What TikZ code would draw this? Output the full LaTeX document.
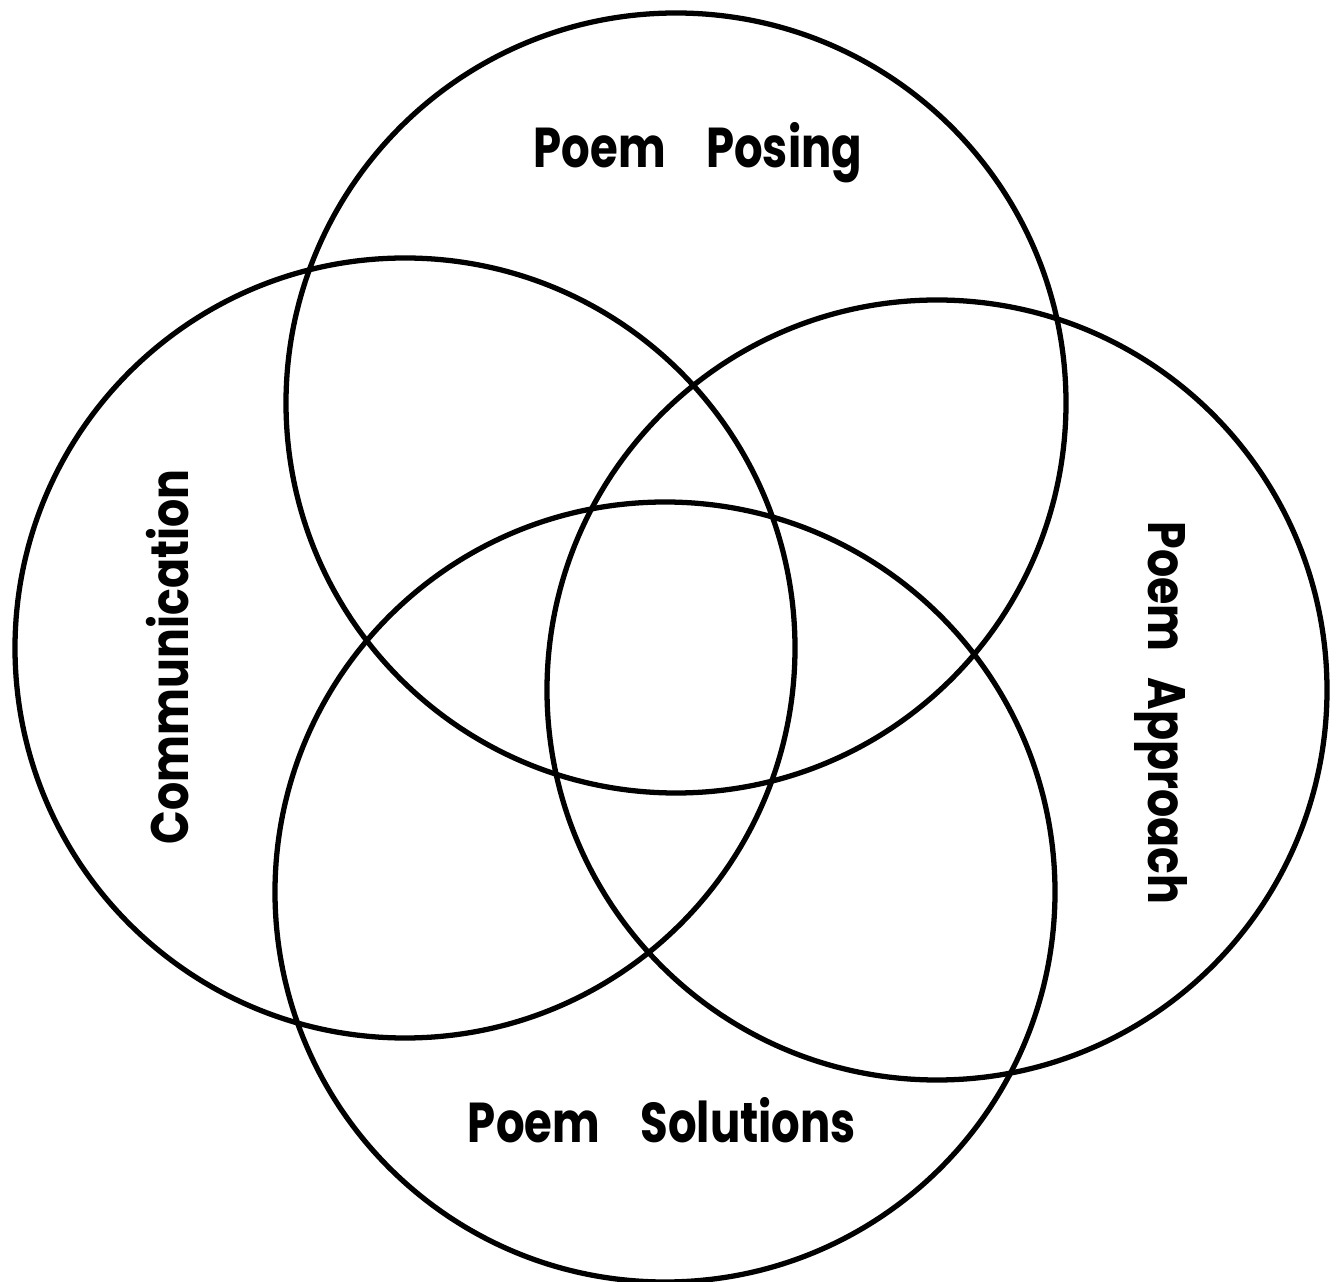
\documentclass[tikz,border=0pt]{standalone}
\usepackage{fontspec}
\setmainfont{Poppins}
\usetikzlibrary{positioning}
\tikzset{
  ring/.style={circle, draw=black, line width=1.5pt, minimum size=7.8cm, inner sep=0pt},
  label/.style={font=\fontsize{16}{19}\selectfont\bfseries, inner sep=0pt, anchor=base},
  sidelabel/.style={label, font=\fontsize{15}{18}\selectfont\bfseries},
}

\begin{document}
\begin{tikzpicture}
\useasboundingbox (0,0) rectangle (13.36,-12.82);
\node[ring] (posing) at (6.76,-4.03) {};
\node[ring] (comm) at (4.05,-6.48) {};
\node[ring] (approach) at (9.37,-6.90) {};
\node[ring] (solutions) at (6.65,-8.92) {};

\node[label] (posingtxt) at (6.98,-1.68) {\scalebox{0.8}[1]{Poem\hspace{0.9em}Posing}};
\node[label] (solutionstxt) at (6.62,-11.42) {\scalebox{0.8}[1]{Poem\hspace{0.9em}Solutions}};
\node[sidelabel, rotate=90] (commtxt) at (1.88,-6.57) {\scalebox{0.84}[1]{Communication}};
\node[sidelabel, rotate=-90] (approachtxt) at (11.48,-7.13) {\scalebox{0.84}[1]{Poem\hspace{0.6em}Approach}};
\end{tikzpicture}
\end{document}
